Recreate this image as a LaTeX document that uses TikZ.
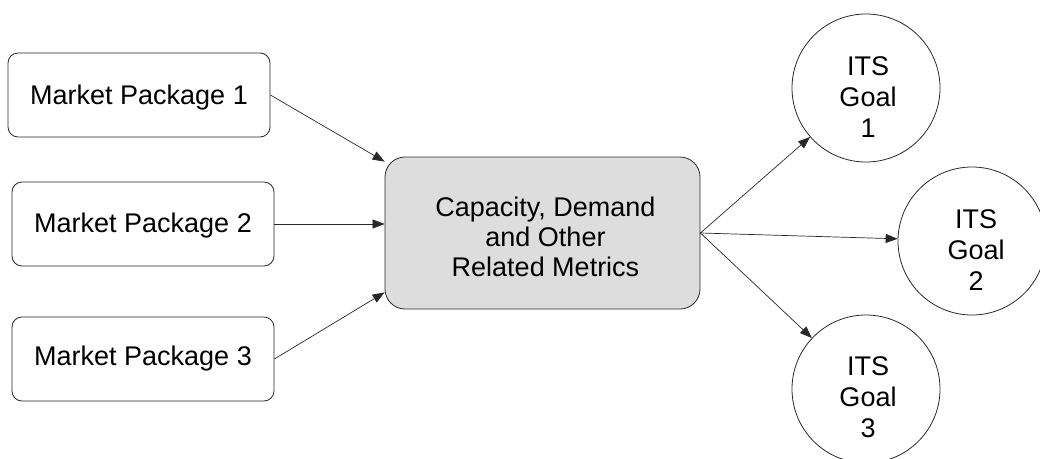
\documentclass[tikz,border=0pt]{standalone}
\usepackage{fontspec}
\setmainfont{Liberation Sans}
\usetikzlibrary{arrows.meta}
\definecolor{boxgray}{RGB}{221,221,221}
\definecolor{edge}{RGB}{40,40,40}
% invisible strut that lowers a centred block of text
\newcommand{\lowerby}[1]{\rule{0pt}{\dimexpr 20pt+2\dimexpr #1\relax\relax}}
\tikzset{
  pkg/.style={draw=edge, line width=0.8pt, rounded corners=10pt, minimum width=262pt, minimum height=84pt,
    font=\fontsize{27}{30}\selectfont, inner sep=0pt},
  hub/.style={draw=edge, line width=0.8pt, fill=boxgray, rounded corners=20pt, minimum width=315pt,
    minimum height=152pt, align=center, font=\fontsize{27}{30}\selectfont},
  goal/.style={draw=edge, line width=0.8pt, circle, minimum size=148pt, inner sep=0pt, align=center,
    font=\fontsize{27}{31}\selectfont},
  link/.style={draw=edge, line width=0.7pt, -{Triangle[length=12pt,width=9pt]}}
}
\begin{document}
\begin{tikzpicture}[x=1pt,y=-1pt]
  \useasboundingbox (0,0) rectangle (1040,458);
  \begin{scope}
    \clip (0,0) rectangle (1040,458);
    % input packages
    \node[pkg] (p1) at (139,95) {\lowerby{2pt}Market Package 1};
    \node[pkg] (p2) at (143,224) {\lowerby{1pt}Market Package 2};
    \node[pkg] (p3) at (143,359) {Market Package 3};
    % central metrics box
    \node[hub] (m) at (542.5,233) {\lowerby{4pt}\hspace{6pt}Capacity, Demand\\\hspace{6pt}and Other\\\hspace{6pt}Related Metrics};
    % goals
    \node[goal] (g1) at (866,88) {\lowerby{8pt}\hspace{4pt}ITS\\\hspace{4pt}Goal\\\hspace{4pt}1};
    \node[goal] (g2) at (972,241) {\lowerby{8pt}\hspace{8pt}ITS\\\hspace{8pt}Goal\\\hspace{8pt}2};
    \node[goal] (g3) at (866,389) {\lowerby{8pt}\hspace{4pt}ITS\\\hspace{4pt}Goal\\\hspace{4pt}3};
    % connectors
    \draw[link] (p1.east) -- ([yshift=-5pt]m.north west);
    \draw[link] (p2.east) -- (p2.east -| m.west);
    \draw[link] (p3.east) -- ([yshift=17pt]m.south west);
    \draw[link] (m.east) -- (g1);
    \draw[link] (m.east) -- (g2);
    \draw[link] (m.east) -- (g3);
  \end{scope}
\end{tikzpicture}
\end{document}
